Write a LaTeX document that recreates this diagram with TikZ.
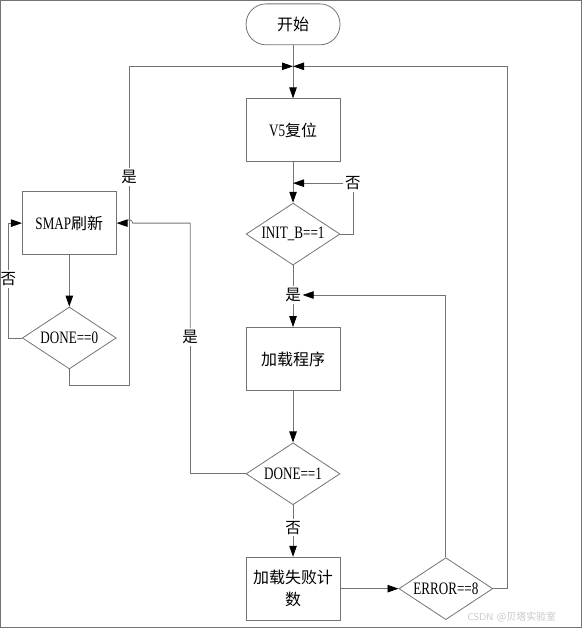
\documentclass[tikz,border=0pt]{standalone}
\usepackage{fontspec}
\setmainfont[FakeStretch=0.75]{Liberation Serif}
\newfontfamily\cjk{Noto Sans CJK SC}
\usepackage{tikz}
\usetikzlibrary{arrows.meta,shapes.geometric}
\newcommand{\zh}[1]{{\fontsize{16}{22}\cjk #1}}

\begin{document}
\begin{tikzpicture}[x=1pt, y=-1pt, >={Triangle[length=11pt,width=7.5pt,color=black]},
  every path/.style={draw=gray!90!black, line width=0.8pt},
  proc/.style={draw, rectangle, minimum width=94pt, minimum height=63pt, inner sep=1pt,
    align=center, font=\fontsize{17.5}{22}\selectfont},
  term/.style={proc, minimum height=41pt, rounded corners=20pt},
  test/.style={draw, diamond, aspect=1.5, minimum width=94pt, minimum height=62pt, inner sep=0pt,
    font=\fontsize{17.5}{19}\selectfont},
  lbl/.style={inner sep=1.5pt, font=\fontsize{15.5}{17}\cjk}]
\useasboundingbox (0,0) rectangle (582,628);

\node[term] (start) at (293,24) {\zh{开始}};
\coordinate (j) at (293,66);
\node[proc] (rst) at (293,130) {V5\zh{复位}};
\node[test] (init) at (293,234) {INIT\_B==1};
\node[proc] (load) at (293,359) {\zh{加载程序}};
\node[test] (d1) at (293,474) {DONE==1};
\node[proc] (fail) at (293,589) {\zh{加载失败计}\\\zh{数}};
\node[test] (err) at (446,589) {ERROR==8};
\node[proc] (smap) at (69,223) {SMAP\zh{刷新}};
\node[test] (d0) at (69,338) {DONE==0};
\coordinate (cr) at (129,223);

\node[lbl] (n1) at (353,183) {否};
\node[lbl] (y1) at (293,295) {是};
\node[lbl] (n3) at (293,528) {否};
\node[lbl] (y2) at (190,337) {是};
\node[lbl] (y3) at (129,177) {是};
\node[lbl] (n2) at (8,279) {否};

\draw[->] (start) -- (rst);
\draw[->] (rst) -- (init);
\draw (init.east) -| (n1);
\draw[->] (n1) -- (rst.south |- n1);
\draw (init) -- (y1);
\draw[->] (y1) -- (load);
\draw[->] (load) -- (d1);
\draw (d1) -- (n3);
\draw[->] (n3) -- (fail);
\draw[->] (fail) -- (err);
\draw[->] (err.north) |- (y1.east);
\draw[->] (err.east) -- ++(14,0) |- (j);
\draw (d1.west) -| (y2);
\draw[->] (y2) |- ([xshift=3.5pt]cr) .. controls +(0,-4.5) and +(0,-4.5) .. ([xshift=-3.5pt]cr) -- (smap.east);
\draw[->] (smap) -- (d0);
\draw (d0.west) -| (n2);
\draw[->] (n2) |- (smap.west);
\draw (d0.south) -- ++(0,16) -| (y3);
\draw[->] (y3) |- (j);

\node[text=gray!45, font=\fontsize{10}{12}\sffamily] (wm) at (512,617) {CSDN \zh{\fontsize{10}{12}\selectfont @贝塔实验室}};
\end{tikzpicture}
\end{document}
